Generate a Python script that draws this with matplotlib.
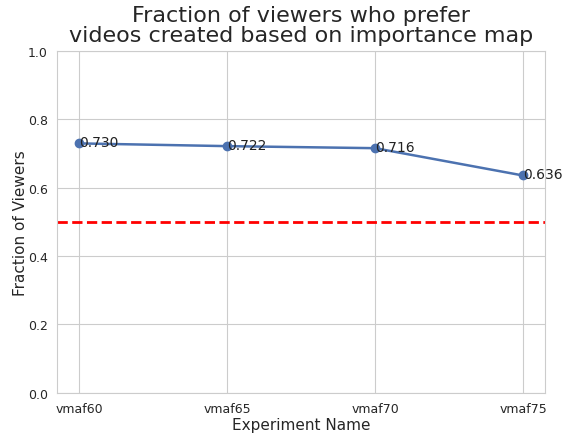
import matplotlib
matplotlib.use("Agg")
import matplotlib.pyplot as plt
import seaborn as sns

experiments = ["vmaf60", "vmaf65", "vmaf70", "vmaf75"]
fractions = [0.730, 0.722, 0.716, 0.636]

sns.set_style("whitegrid")
plt.rcParams['font.family'] = ['DejaVu Sans']

fig = plt.figure(figsize=(5.68, 4.35), dpi=100)
ax = fig.add_axes([0.1, 0.095, 0.86, 0.785])
ax.plot(range(len(experiments)), fractions, color="#4c72b0", marker="o", markersize=6, linewidth=1.8)
for i, v in enumerate(fractions):
    ax.text(i, v + 0.004, f"{v:.3f}", fontsize=10, ha="left", va="center", color="#222222")
ax.axhline(0.5, color="red", linestyle="--", linewidth=2)
ax.set_xticks(range(len(experiments)))
ax.set_xticklabels(experiments)
ax.tick_params(labelsize=9, pad=3)
ax.set_ylim(0, 1.0)
ax.set_xlim(-0.15, 3.15)
ax.set_xlabel("Experiment Name", fontsize=11, labelpad=2)
ax.set_ylabel("Fraction of Viewers", fontsize=11, labelpad=0)
ax.set_title("Fraction of viewers who prefer\nvideos created based on importance map", fontsize=16, linespacing=1.0, pad=7)
fig.savefig("out.png", dpi=100)
